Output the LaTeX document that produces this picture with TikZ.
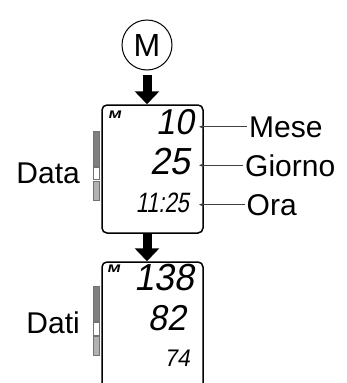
\documentclass[tikz,border=0pt]{standalone}
\usepackage{fontspec}
\setmainfont{Liberation Sans}
\newfontfamily\lcdfont[FakeSlant=0.18,FakeStretch=0.95]{Liberation Sans}
\newfontfamily\lcdnarrow[FakeSlant=0.18,FakeStretch=0.78]{Liberation Sans}
\newfontfamily\iconfont[FakeSlant=0.2,FakeStretch=1.4]{Liberation Sans Bold}
\definecolor{bardark}{HTML}{7F7F7F}
\definecolor{barlight}{HTML}{B2B2B2}
\usetikzlibrary{arrows.meta,positioning}

\tikzset{
  display/.style={draw, line width=1.5pt, rounded corners=5pt, minimum width=101pt, inner sep=0pt},
  lcd/.style={font=\lcdfont\fontsize{#1}{#1}\selectfont, inner sep=0pt, anchor=north east},
  icon/.style={font=\iconfont\fontsize{11}{11}\selectfont, inner sep=0pt, anchor=north west},
  sidetext/.style={font=\fontsize{30}{30}\selectfont, inner sep=0pt},
  leader/.style={-{Stealth[length=5pt,width=4pt]}, line width=0.8pt, black!75},
  bigarrow/.style={-{Triangle[width=24pt,length=13pt]}, line width=9pt},
  bar/.style={draw=black!55, line width=0.6pt}
}

\begin{document}
\begin{tikzpicture}[x=1pt,y=-1pt]
\useasboundingbox (0,0) rectangle (346,383);
\clip (0,0) rectangle (346,383);

% Button
\node[circle, draw, line width=1pt, minimum size=50pt, inner sep=0pt, font=\fontsize{32}{32}\selectfont] (mbtn) at (147,45) {M};

% Displays
\node[display, minimum height=128pt] (data) at (152.5,169) {};
\node[display, minimum height=150pt] (dati) at (152.5,337) {};

% Arrows
\draw[bigarrow, shorten <=4pt] (mbtn.south) -- (mbtn.south |- data.north);
\draw[bigarrow] (data.south -| mbtn) -- (dati.north -| mbtn);

% Display contents
\node[icon] (icon1) at (108,111) {M};
\node[lcd=36] (month) at (194,109) {10};
\node[lcd=37.7] (day) at (190,148) {25};
\node[lcd=28, font=\lcdnarrow\fontsize{28}{28}\selectfont] (time) at (189,193) {11:25};
\node[icon] (icon2) at (107,264.5) {M};
\node[lcd=37.7] (sys) at (194,264) {138};
\node[lcd=36] (dia) at (186,305.5) {82};
\node[lcd=24] (pulse) at (190,350) {74};

% Side bars
\draw[bar, fill=bardark] (93,131) rectangle (99,166.7);
\draw[bar, fill=white] (93,167.3) rectangle (99,179.3);
\draw[bar, fill=barlight] (93,181) rectangle (99,200);
\draw[bar, fill=bardark] (93,286) rectangle (99,321);
\draw[bar, fill=white] (93,322.3) rectangle (99,335);
\draw[bar, fill=barlight] (93,336.7) rectangle (99,355);

% Labels
\node[sidetext, anchor=base east] (datatxt) at (80,183) {Data};
\node[sidetext, anchor=base east] (datitxt) at (80,333) {Dati};
\node[sidetext, anchor=base west] (mese) at (249,137) {Mese};
\node[sidetext, anchor=base west] (giorno) at (245,176) {Giorno};
\node[sidetext, anchor=base west] (ora) at (246.5,215) {Ora};

% Leaders
\coordinate (tip) at (199,0);
\draw[leader] ([xshift=-2pt]mese.west) -- (mese.west -| tip);
\draw[leader] ([xshift=-2pt]giorno.west) -- (giorno.west -| tip);
\draw[leader] ([xshift=-2pt]ora.west) -- (ora.west -| tip);
\end{tikzpicture}
\end{document}
